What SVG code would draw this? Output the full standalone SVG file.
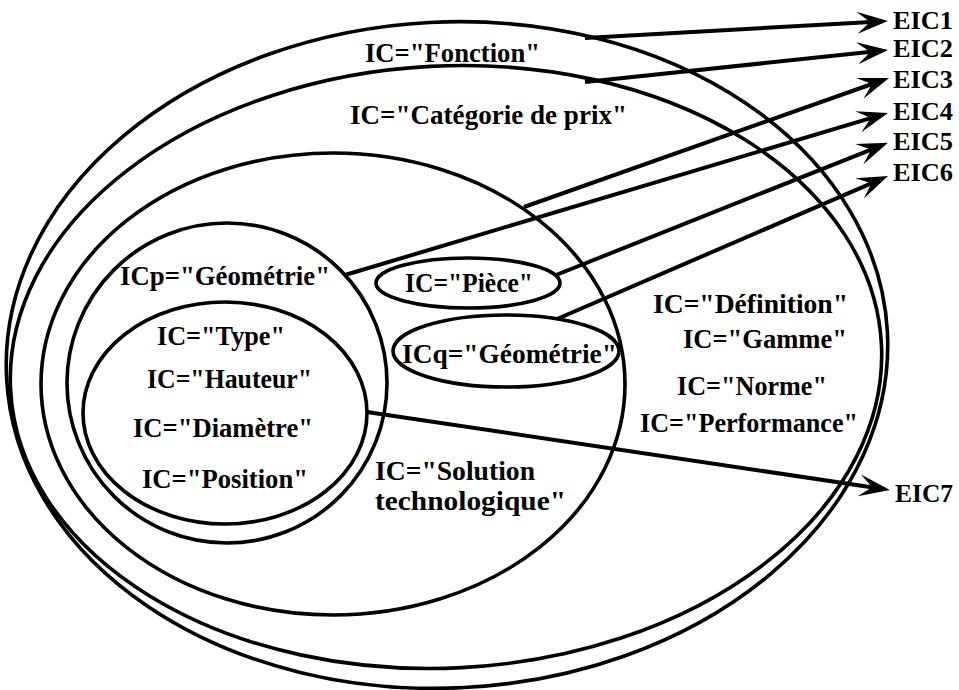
<svg xmlns="http://www.w3.org/2000/svg" width="959" height="690" viewBox="0 0 959 690">
<style>
.e{fill:none;stroke:#000;stroke-width:3.6}
.c{fill:none;stroke:#000;stroke-width:4;marker-end:url(#ah)}
text{font-family:"Liberation Serif","Times New Roman",serif;font-weight:bold;font-size:27px;fill:#000}
.t{font-size:26px}
</style>
<defs>
<marker id="ah" viewBox="-20 -13 34 26" refX="0" refY="0" markerWidth="34" markerHeight="26" markerUnits="userSpaceOnUse" orient="auto">
<path d="M12,0 L-19,-11 L-6,0 L-19,11 Z" fill="#000"/>
</marker>
</defs>
<rect width="959" height="690" fill="#fff"/>
<g id="n-fonction">
<ellipse class="e" cx="447" cy="355" rx="441" ry="333" transform="rotate(-3 447 355)"/>
<text x="365" y="62" textLength="175" lengthAdjust="spacingAndGlyphs">IC="Fonction"</text>
</g>
<g id="n-categorie">
<ellipse class="e" cx="446" cy="367" rx="436" ry="301" transform="rotate(-3 446 367)"/>
<text x="350" y="124" textLength="277" lengthAdjust="spacingAndGlyphs">IC="Catégorie de prix"</text>
<text x="653" y="313" textLength="195" lengthAdjust="spacingAndGlyphs">IC="Définition"</text>
<text x="683" y="348" textLength="164" lengthAdjust="spacingAndGlyphs">IC="Gamme"</text>
<text x="677" y="395" textLength="150" lengthAdjust="spacingAndGlyphs">IC="Norme"</text>
<text x="640" y="432" textLength="218" lengthAdjust="spacingAndGlyphs">IC="Performance"</text>
</g>
<g id="n-solution">
<ellipse class="e" cx="333" cy="384" rx="292" ry="231"/>
<text x="375" y="480" textLength="160" lengthAdjust="spacingAndGlyphs">IC="Solution</text>
<text x="375" y="510" textLength="191" lengthAdjust="spacingAndGlyphs">technologique"</text>
</g>
<g id="n-icp">
<ellipse class="e" cx="227" cy="383" rx="160" ry="160"/>
<text x="120" y="285" textLength="210" lengthAdjust="spacingAndGlyphs">ICp="Géométrie"</text>
</g>
<g id="n-type">
<ellipse class="e" cx="225" cy="413" rx="142" ry="111"/>
<text x="157" y="345" textLength="128" lengthAdjust="spacingAndGlyphs">IC="Type"</text>
<text x="147" y="388" textLength="165" lengthAdjust="spacingAndGlyphs">IC="Hauteur"</text>
<text x="133" y="437" textLength="180" lengthAdjust="spacingAndGlyphs">IC="Diamètre"</text>
<text x="142" y="488" textLength="166" lengthAdjust="spacingAndGlyphs">IC="Position"</text>
</g>
<g id="n-piece">
<ellipse class="e" cx="468" cy="283" rx="92" ry="25"/>
<text x="405" y="292" textLength="128" lengthAdjust="spacingAndGlyphs">IC="Pièce"</text>
</g>
<g id="n-icq">
<ellipse class="e" cx="506" cy="351" rx="113" ry="36"/>
<text x="402" y="363" textLength="215" lengthAdjust="spacingAndGlyphs">ICq="Géométrie"</text>
</g>
<g id="n-eic1"><text class="t" x="893" y="29" textLength="60" lengthAdjust="spacingAndGlyphs">EIC1</text></g>
<g id="n-eic2"><text class="t" x="893" y="57" textLength="60" lengthAdjust="spacingAndGlyphs">EIC2</text></g>
<g id="n-eic3"><text class="t" x="893" y="88" textLength="60" lengthAdjust="spacingAndGlyphs">EIC3</text></g>
<g id="n-eic4"><text class="t" x="893" y="120" textLength="60" lengthAdjust="spacingAndGlyphs">EIC4</text></g>
<g id="n-eic5"><text class="t" x="893" y="150" textLength="60" lengthAdjust="spacingAndGlyphs">EIC5</text></g>
<g id="n-eic6"><text class="t" x="893" y="181" textLength="60" lengthAdjust="spacingAndGlyphs">EIC6</text></g>
<g id="n-eic7"><text class="t" x="895" y="502" textLength="58" lengthAdjust="spacingAndGlyphs">EIC7</text></g>
<g id="connectors">
<line class="c" x1="585" y1="38" x2="876" y2="21.7"/>
<line class="c" x1="585" y1="82" x2="876.1" y2="51.3"/>
<line class="c" x1="524" y1="207" x2="877.7" y2="82"/>
<line class="c" x1="345" y1="275" x2="876.5" y2="116.4"/>
<line class="c" x1="556" y1="275" x2="876.8" y2="147.3"/>
<line class="c" x1="557" y1="319" x2="877" y2="180.8"/>
<line class="c" x1="367" y1="412" x2="878.1" y2="488.2"/>
</g>
</svg>
